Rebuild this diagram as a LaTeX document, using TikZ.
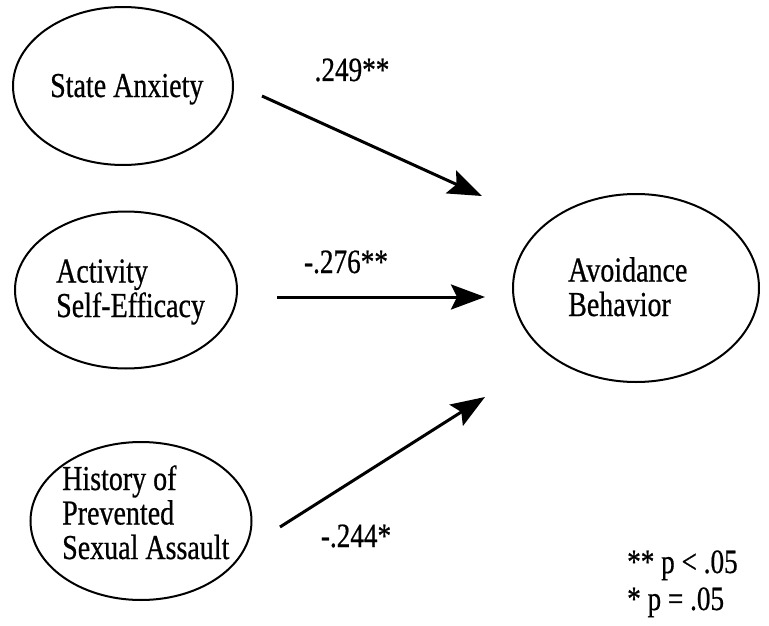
\documentclass[tikz,border=0pt]{standalone}
\usepackage{fontspec}
\setmainfont[FakeStretch=0.8,FakeBold=0.6]{Liberation Serif}
\usetikzlibrary{shapes.geometric,arrows.meta}
\begin{document}
\begin{tikzpicture}[x=1pt,y=-1pt,
  latent/.style={draw, ellipse, line width=2pt, inner sep=0pt},
  txt/.style={font=\fontsize{35}{34.5}\selectfont, align=left, inner sep=0pt, anchor=base west},
  coef/.style={font=\fontsize{34}{35}\selectfont, inner sep=0pt, anchor=base},
  note/.style={font=\fontsize{34}{37}\selectfont, inner sep=0pt, anchor=base west},
  effect/.style={line width=3pt, -{Stealth[length=34pt,width=25pt,inset=6pt]}}]
\useasboundingbox (0,0) rectangle (769,626);

% latent variables
\node[latent, minimum width=220pt, minimum height=158pt] (sa) at (123,86) {};
\node[latent, minimum width=222pt, minimum height=157pt] (ase) at (126,290) {};
\node[latent, minimum width=221pt, minimum height=158pt] (hpsa) at (141,521) {};
\node[latent, minimum width=246pt, minimum height=188pt] (ab) at (636,288) {};

% variable names (base anchor sits on the last line)
\node[txt] (sa-t) at (50,97) {State Anxiety};
\node[txt] (ase-t) at (56,317) {Activity\\Self-Efficacy};
\node[txt] (hpsa-t) at (62,559) {History of\\Prevented\\Sexual Assault};
\node[txt] (ab-t) at (568,316) {Avoidance\\Behavior};

% path endpoints
\coordinate (sa-out) at (262,96);
\coordinate (ab-in1) at (482,196);
\coordinate (ase-out) at (277,297);
\coordinate (ab-in2) at (485,297);
\coordinate (hpsa-out) at (280,527);
\coordinate (ab-in3) at (485,397);

% structural paths
\draw[effect] (sa-out) -- (ab-in1);
\draw[effect] (ase-out) -- (ab-in2);
\draw[effect] (hpsa-out) -- (ab-in3);

% path coefficients
\node[coef] (c1) at (352,81) {.249**};
\node[coef] (c2) at (346,273) {-.276**};
\node[coef] (c3) at (356,547) {-.244*};

% significance legend
\node[note] (n1) at (627,573) {** p < .05};
\node[note] (n2) at (627,610) {* p = .05};
\end{tikzpicture}
\end{document}
